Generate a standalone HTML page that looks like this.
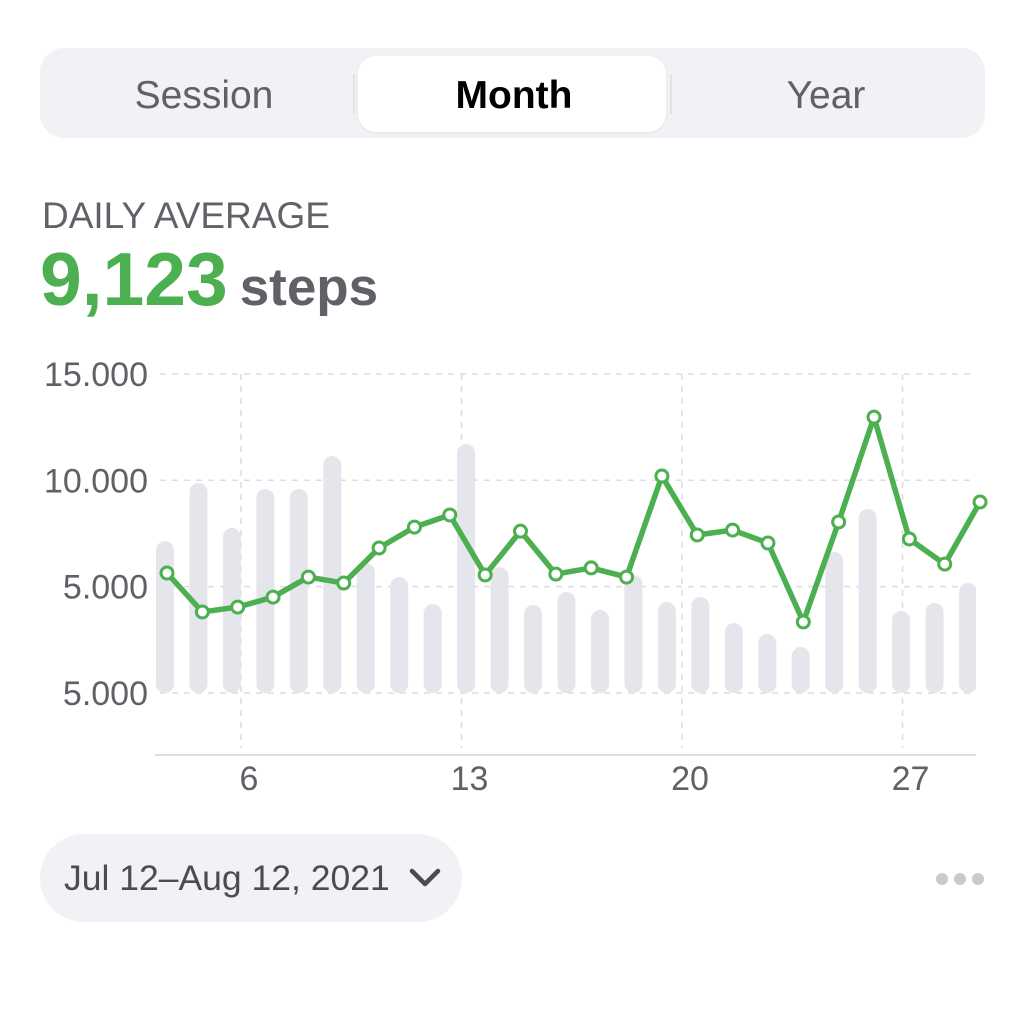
<!DOCTYPE html>
<html><head><meta charset="utf-8"><style>
body{margin:0;width:1024px;height:1024px;background:#fff;font-family:"Liberation Sans",sans-serif;position:relative;overflow:hidden}
.abs{position:absolute}
#seg{left:40px;top:48px;width:945px;height:90px;border-radius:24px;background:#f2f2f6}
#sel{left:358px;top:56px;width:308px;height:76px;border-radius:18px;background:#fff;box-shadow:0 1px 3px rgba(0,0,0,0.06)}
.segt{top:74px;font-size:39px;color:#5f6167;width:300px;text-align:center}
.sep{top:74px;width:2px;height:40px;background:#e2e2e6}
</style></head><body>
<div class="abs" id="seg"></div>
<div class="abs sep" style="left:353px"></div>
<div class="abs sep" style="left:670px"></div>
<div class="abs" id="sel"></div>
<div class="abs segt" style="left:54px">Session</div>
<div class="abs segt" style="left:364px;color:#000;font-weight:bold">Month</div>
<div class="abs segt" style="left:676px">Year</div>
<div class="abs" style="left:42px;top:195px;font-size:37px;color:#606268">DAILY AVERAGE</div>
<div class="abs" style="left:40px;top:236px;white-space:nowrap"><span style="font-size:75px;color:#4caf50;font-weight:600">9,123</span><span style="font-size:53px;color:#5f6167;font-weight:bold;margin-left:12px">steps</span></div>
<svg class="abs" style="left:0;top:0" width="1024" height="1024" id="chart"></svg>
<div class="abs" style="left:40px;top:834px;width:422px;height:88px;border-radius:44px;background:#f2f2f6"></div>
<div class="abs" style="left:64px;top:858px;font-size:35.5px;color:#4a4c52;white-space:nowrap">Jul 12–Aug 12, 2021</div>
<svg class="abs" style="left:408px;top:866px" width="34" height="24"><path d="M4 5 L17 18 L30 5" fill="none" stroke="#4a4c52" stroke-width="4.5" stroke-linecap="round" stroke-linejoin="round"/></svg>
<svg class="abs" style="left:930px;top:868px" width="60" height="22"><circle cx="12" cy="11" r="6" fill="#c9c9d1"/><circle cx="30" cy="11" r="6" fill="#c9c9d1"/><circle cx="48" cy="11" r="6" fill="#c9c9d1"/></svg>
<script>
const yTickValues=[15000,10000,5000,0];
const yTickLabels=["15.000","10.000","5.000","5.000"];
const xTickLabels=["6","13","20","27"];
const xTickDays=[6,13,20,27];
const barValues=[7140,9870,7760,9590,9590,11140,6110,5450,4180,11700,5920,4140,4750,3900,5550,4280,4510,3290,2770,2160,6630,8650,3850,4230,5170];
const lineValues=[5640,3810,4040,4510,5450,5170,6820,7800,8370,5550,7610,5590,5880,5450,10200,7430,7660,7050,3340,8040,12970,7240,6060,8980];
const NS="http://www.w3.org/2000/svg";
const svg=document.getElementById('chart');
function y(v){return 693-v*0.02127;}
function xBar(i){return 165+i*33.46;}
function xLine(i){return 167+i*35.35;}
function xDay(d){return 241+(d-6)*31.5;}
function mk(t,a){const e=document.createElementNS(NS,t);for(const k in a)e.setAttribute(k,a[k]);svg.appendChild(e);return e;}
yTickValues.forEach((v,i)=>{
 const g=mk('line',{x1:160,x2:976,y1:y(v),y2:y(v),stroke:'#dcdce2','stroke-width':1.5,'stroke-dasharray':'6 6'});
 
 
 const t=mk('text',{x:148,y:y(v)+12,'text-anchor':'end','font-size':34,fill:'#5f6167','font-family':'Liberation Sans, sans-serif'});
 t.textContent=yTickLabels[i];
 
 
});
xTickDays.forEach((d,i)=>{
 const g=mk('line',{x1:xDay(d),x2:xDay(d),y1:374,y2:748,stroke:'#dcdce2','stroke-width':1.5,'stroke-dasharray':'6 6'});
 
 
 const t=mk('text',{x:xDay(d)+8,y:790,'text-anchor':'middle','font-size':34,fill:'#5f6167','font-family':'Liberation Sans, sans-serif'});
 t.textContent=xTickLabels[i];
 
 
});
const ax=mk('line',{x1:155,x2:976,y1:755,y2:755,stroke:'#dcdce2','stroke-width':2});


mk('clipPath',{id:'cp'}).appendChild(document.createElementNS(NS,'rect'));
const cr=svg.querySelector('#cp rect');cr.setAttribute('x',0);cr.setAttribute('y',0);cr.setAttribute('width',976);cr.setAttribute('height',1024);
barValues.forEach((v,i)=>{
 const b=mk('rect',{x:xBar(i)-9,y:y(v),width:18,height:Math.max(0,y(0)-y(v)),rx:9,fill:'#e5e5ec','clip-path':'url(#cp)'});
 
 
});
const pts=lineValues.map((v,i)=>xLine(i)+','+y(v)).join(' ');
const pl=mk('polyline',{points:pts,fill:'none',stroke:'#4caf50','stroke-width':5.5,'stroke-linejoin':'round'});


lineValues.forEach((v,i)=>{
 const c=mk('circle',{cx:xLine(i),cy:y(v),r:6,fill:'#fff',stroke:'#4caf50','stroke-width':3});
 
 
});
</script>
</body></html>
